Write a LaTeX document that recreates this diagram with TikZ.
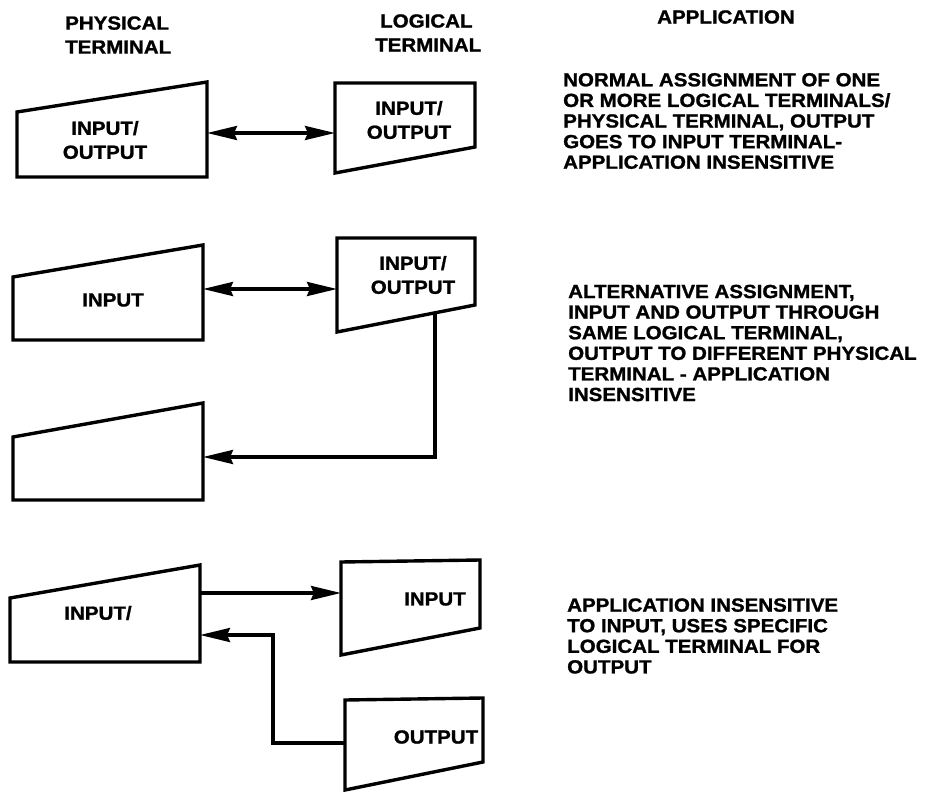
\documentclass[tikz,border=0pt]{standalone}
\usepackage{fontspec}
\newfontfamily\labfont{Liberation Sans}[FakeStretch=1.08,BoldFeatures={FakeBold=1.2}]
\usetikzlibrary{arrows.meta}
\begin{document}
\begin{tikzpicture}[x=1pt,y=-1pt,
  termbox/.style={line width=3.4pt,line join=miter},
  conn/.style={line width=3.2pt},
  tip/.style={-{Stealth[length=30pt,width=14pt,inset=3pt]}},
  dtip/.style={{Stealth[length=30pt,width=14pt,inset=3pt]}-{Stealth[length=30pt,width=14pt,inset=3pt]}},
  boxtext/.style={font=\labfont\bfseries\fontsize{19}{24}\selectfont,align=center,inner sep=0pt},
  hdr/.style={font=\labfont\bfseries\fontsize{19}{24}\selectfont,align=left,inner sep=0pt,anchor=west},
  desc/.style={font=\labfont\bfseries\fontsize{19}{20.6}\selectfont,align=left,inner sep=0pt,anchor=west}]
\useasboundingbox (0,0) rectangle (930,792);

% headers
\node[hdr] (hphys) at (65,35) {PHYSICAL\\TERMINAL};
\node[hdr] (hlog1) at (380,21) {LOGICAL};
\node[hdr] (hlog2) at (375,45) {TERMINAL};
\node[hdr] (happ) at (657,17) {APPLICATION};

% row 1
\draw[termbox] (17,112) -- (207,82) -- (207,177) -- (17,177) -- cycle;
\node[boxtext] (p1) at (105,140) {INPUT/\\OUTPUT};
\draw[termbox] (335,83) -- (475,83) -- (475,147) -- (335,173) -- cycle;
\node[boxtext] (l1) at (409,120) {INPUT/\\OUTPUT};
\coordinate (p1r) at (207,133);
\coordinate (l1l) at (335,133);
\draw[conn,dtip] (p1r) -- (l1l);
\node[desc] (d1) at (563,121) {NORMAL ASSIGNMENT OF ONE\\OR MORE LOGICAL TERMINALS/\\PHYSICAL TERMINAL, OUTPUT\\GOES TO INPUT TERMINAL-\\APPLICATION INSENSITIVE};

% row 2
\draw[termbox] (13,277) -- (203,245) -- (203,340) -- (13,340) -- cycle;
\node[boxtext] (p2) at (113,300) {INPUT};
\draw[termbox] (337,238) -- (475,238) -- (475,305) -- (337,332) -- cycle;
\node[boxtext] (l2) at (413,275) {INPUT/\\OUTPUT};
\coordinate (p2r) at (203,289);
\coordinate (l2l) at (337,289);
\draw[conn,dtip] (p2r) -- (l2l);
\draw[termbox] (13,437) -- (203,403) -- (203,500) -- (13,500) -- cycle;
\coordinate (l2b) at (435,313);
\coordinate (c2) at (435,457);
\coordinate (p3r) at (203,457);
\draw[conn,tip] (l2b) -- (c2) -- (p3r);
\node[desc] (d2) at (568,343) {ALTERNATIVE ASSIGNMENT,\\INPUT AND OUTPUT THROUGH\\SAME LOGICAL TERMINAL,\\OUTPUT TO DIFFERENT PHYSICAL\\TERMINAL - APPLICATION\\INSENSITIVE};

% row 3
\draw[termbox] (10,598) -- (200,565) -- (200,662) -- (10,662) -- cycle;
\node[boxtext] (p4) at (98,613) {INPUT/};
\draw[termbox] (341,562) -- (480,560) -- (480,628) -- (341,655) -- cycle;
\node[boxtext] (l3) at (435,599) {INPUT};
\draw[termbox] (345,700) -- (483,698) -- (483,762) -- (345,790) -- cycle;
\node[boxtext] (l4) at (436,737) {OUTPUT};
\coordinate (p4r1) at (200,593);
\coordinate (l3l) at (341,593);
\draw[conn,tip] (p4r1) -- (l3l);
\coordinate (l4l) at (345,743);
\coordinate (c3a) at (273,743);
\coordinate (c3b) at (273,635);
\coordinate (p4r2) at (200,635);
\draw[conn,tip] (l4l) -- (c3a) -- (c3b) -- (p4r2);
\node[desc] (d3) at (567,636) {APPLICATION INSENSITIVE\\TO INPUT, USES SPECIFIC\\LOGICAL TERMINAL FOR\\OUTPUT};
\end{tikzpicture}
\end{document}
